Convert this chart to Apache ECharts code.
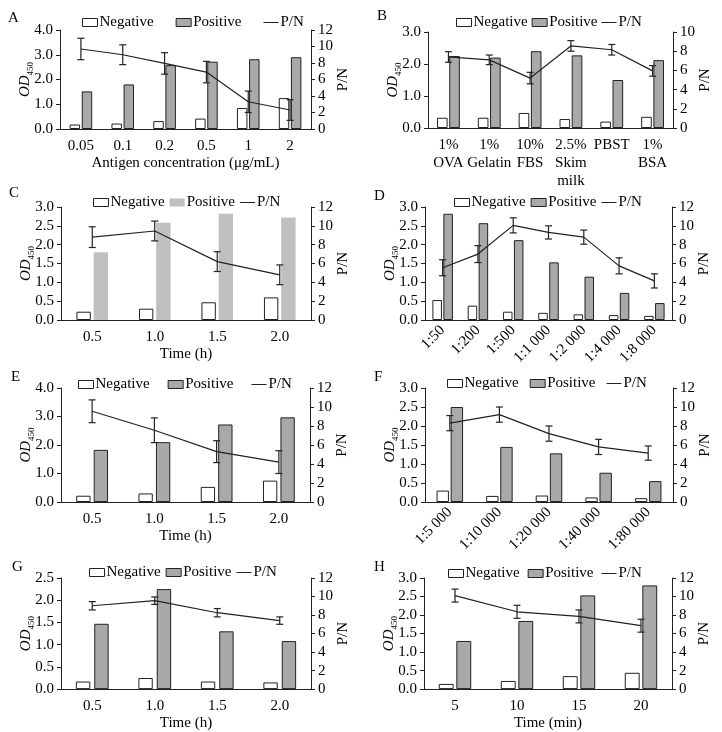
<!DOCTYPE html>
<html>
<head>
<meta charset="utf-8">
<script src="https://cdn.jsdelivr.net/npm/echarts@6/dist/echarts.min.js"></script>
<style>
html, body {margin: 0; padding: 0; background: #fff;}
#ch-main {width: 722px; height: 732px;}
</style>
</head>
<body>
<div id="ch-main"></div>
<script>
// A - antigen concentration
var catA = ['0.05', '0.1', '0.2', '0.5', '1', '2'];
var negA = [0.18, 0.22, 0.32, 0.42, 0.85, 1.25];
var posA = [1.52, 1.80, 2.58, 2.72, 2.82, 2.90];
var pnA = [9.7, 9.0, 7.95, 6.9, 3.3, 2.3];
var errA = [1.3, 1.2, 1.3, 1.3, 1.3, 1.25];

// B - blocking buffer
var catB = ['1%\nOVA', '1%\nGelatin', '10%\nFBS', '2.5%\nSkim\nmilk', 'PBST', '1%\nBSA'];
var negB = [0.32, 0.32, 0.47, 0.28, 0.20, 0.35];
var posB = [2.25, 2.20, 2.40, 2.27, 1.50, 2.12];
var pnB = [7.4, 7.1, 5.2, 8.55, 8.15, 5.95];
var errB = [0.55, 0.5, 0.6, 0.55, 0.55, 0.55];

// C - time
var catC = ['0.5', '1.0', '1.5', '2.0'];
var negC = [0.22, 0.30, 0.47, 0.60];
var posC = [1.80, 2.58, 2.82, 2.72];
var pnC = [8.8, 9.45, 6.2, 4.8];
var errC = [1.1, 1.05, 1.05, 1.05];

// D - dilution
var catD = ['1:50', '1:200', '1:500', '1:1 000', '1:2 000', '1:4 000', '1:8 000'];
var negD = [0.53, 0.38, 0.22, 0.19, 0.15, 0.13, 0.11];
var posD = [2.82, 2.57, 2.12, 1.53, 1.15, 0.72, 0.45];
var pnD = [5.55, 7.0, 10.05, 9.3, 8.8, 5.75, 4.15];
var errD = [0.85, 0.9, 0.8, 0.7, 0.75, 0.85, 0.75];

// E - time
var catE = ['0.5', '1.0', '1.5', '2.0'];
var negE = [0.22, 0.30, 0.53, 0.75];
var posE = [1.83, 2.10, 2.72, 2.97];
var pnE = [9.55, 7.55, 5.3, 4.2];
var errE = [1.2, 1.3, 1.15, 1.2];

// F - dilution
var catF = ['1:5 000', '1:10 000', '1:20 000', '1:40 000', '1:80 000'];
var negF = [0.30, 0.16, 0.17, 0.12, 0.10];
var posF = [2.50, 1.45, 1.28, 0.77, 0.55];
var pnF = [8.3, 9.2, 7.2, 5.8, 5.15];
var errF = [0.8, 0.8, 0.8, 0.8, 0.75];

// G - time
var catG = ['0.5', '1.0', '1.5', '2.0'];
var negG = [0.17, 0.25, 0.17, 0.15];
var posG = [1.47, 2.25, 1.30, 1.08];
var pnG = [9.0, 9.55, 8.25, 7.4];
var errG = [0.45, 0.4, 0.45, 0.4];

// H - time (min)
var catH = ['5', '10', '15', '20'];
var negH = [0.14, 0.22, 0.35, 0.44];
var posH = [1.30, 1.84, 2.53, 2.80];
var pnH = [10.1, 8.35, 7.85, 6.85];
var errH = [0.7, 0.7, 0.7, 0.7];

var FONT = "'Liberation Serif', 'Times New Roman', serif";
var DARK = '#222';
var GRAY = '#a9a9a9';
var LIGHT = '#bfbfbf';

var panels = [
    {letter: 'A', cats: catA, neg: negA, pos: posA, pn: pnA, err: errA, yMax: 4, yStep: 1, pnMax: 12,
        xName: 'Antigen concentration (μg/mL)', grid: [60, 30, 251, 99], leg: [82, 15, 22], lt: [8, 11], bw: '25%', bg: '16%'},
    {letter: 'B', cats: catB, neg: negB, pos: posB, pn: pnB, err: errB, yMax: 3, yStep: 1, pnMax: 10,
        xName: '', grid: [428, 32, 245, 96], leg: [456, 15, 4], lt: [377, 9], bw: '26%', bg: '15%'},
    {letter: 'C', cats: catC, neg: negC, pos: posC, pn: pnC, err: errC, yMax: 3, yStep: 0.5, pnMax: 12,
        xName: 'Time (h)', grid: [61, 207, 250, 113], leg: [93, 195, 5], lt: [9, 186], bw: '23%', bg: '20%', light: true},
    {letter: 'D', cats: catD, neg: negD, pos: posD, pn: pnD, err: errD, yMax: 3, yStep: 0.5, pnMax: 12,
        xName: '', grid: [425, 207, 247, 113], leg: [454, 195, 5], lt: [374, 189], bw: '27%', bg: '15%', rot: 45},
    {letter: 'E', cats: catE, neg: negE, pos: posE, pn: pnE, err: errE, yMax: 4, yStep: 1, pnMax: 12,
        xName: 'Time (h)', grid: [61, 388, 249, 114], leg: [78, 377, 18], lt: [11, 370], bw: '23%', bg: '22%'},
    {letter: 'F', cats: catF, neg: negF, pos: posF, pn: pnF, err: errF, yMax: 3, yStep: 0.5, pnMax: 12,
        xName: '', grid: [425, 388, 248, 114], leg: [447, 376, 11], lt: [374, 370], bw: '25%', bg: '14%', rot: 45},
    {letter: 'G', cats: catG, neg: negG, pos: posG, pn: pnG, err: errG, yMax: 2.5, yStep: 0.5, pnMax: 12,
        xName: 'Time (h)', grid: [61, 578, 250, 115], leg: [89, 565, 5], lt: [12, 560], bw: '23%', bg: '28%'},
    {letter: 'H', cats: catH, neg: negH, pos: posH, pn: pnH, err: errH, yMax: 3, yStep: 0.5, pnMax: 12,
        xName: 'Time (min)', grid: [424, 578, 248, 115], leg: [448, 566, 8], lt: [374, 560], bw: '24%', bg: '18%'}
];

// vertical error bar with caps
function renderErr(params, api) {
    var x = api.value(0);
    var lo = api.coord([x, api.value(1)]);
    var hi = api.coord([x, api.value(2)]);
    var c = 3.5;
    var st = {stroke: DARK, lineWidth: 1.2};
    return {
        type: 'group',
        children: [
            {type: 'line', shape: {x1: lo[0], y1: lo[1], x2: hi[0], y2: hi[1]}, style: st},
            {type: 'line', shape: {x1: lo[0] - c, y1: lo[1], x2: lo[0] + c, y2: lo[1]}, style: st},
            {type: 'line', shape: {x1: hi[0] - c, y1: hi[1], x2: hi[0] + c, y2: hi[1]}, style: st}
        ]
    };
}

var axisLine = {show: true, lineStyle: {color: DARK, width: 1}};
var txt = {fontFamily: FONT, fontSize: 15, color: '#000'};

var option = {
    animation: false,
    backgroundColor: '#fff',
    textStyle: {fontFamily: FONT},
    grid: [], xAxis: [], yAxis: [], series: [], legend: [], graphic: []
};

panels.forEach(function (p, i) {
    option.grid.push({left: p.grid[0], top: p.grid[1], width: p.grid[2], height: p.grid[3]});
    option.xAxis.push({
        type: 'category', gridIndex: i, data: p.cats,
        axisLine: axisLine, axisTick: {show: false},
        axisLabel: Object.assign({interval: 0, margin: 8, rotate: p.rot || 0, lineHeight: 18}, txt),
        name: p.xName, nameLocation: 'middle', nameGap: 26,
        nameTextStyle: txt
    });
    option.yAxis.push({
        type: 'value', gridIndex: i, min: 0, max: p.yMax, interval: p.yStep,
        axisLine: axisLine, axisTick: {show: true, length: 4, lineStyle: {color: DARK}},
        splitLine: {show: false},
        axisLabel: Object.assign({margin: 7, formatter: function (v) { return v.toFixed(1); }}, txt),
        name: '{i|OD}{s|450}', nameLocation: 'middle', nameGap: 25, nameRotate: 90,
        nameMoveOverlap: false,
        nameTextStyle: {
            rich: {
                i: {fontFamily: FONT, fontSize: 15, fontStyle: 'italic', color: '#000', verticalAlign: 'middle', lineHeight: 16},
                s: {fontFamily: FONT, fontSize: 9, color: '#000', verticalAlign: 'bottom', padding: [11, 0, 0, 0]}
            }
        }
    });
    option.yAxis.push({
        type: 'value', gridIndex: i, position: 'right', min: 0, max: p.pnMax, interval: 2,
        axisLine: axisLine, axisTick: {show: true, length: 4, lineStyle: {color: DARK}},
        splitLine: {show: false},
        axisLabel: Object.assign({margin: 7}, txt),
        name: 'P/N', nameLocation: 'middle', nameGap: 25, nameRotate: 90,
        nameMoveOverlap: false,
        nameTextStyle: txt
    });

    var posStyle = p.light ? {color: LIGHT, borderWidth: 0} : {color: GRAY, borderColor: DARK, borderWidth: 1};
    option.series.push({
        name: 'Negative', type: 'bar', xAxisIndex: i, yAxisIndex: 2 * i,
        data: p.neg, barWidth: p.bw, barGap: p.bg,
        itemStyle: {color: '#fff', borderColor: DARK, borderWidth: 1}
    });
    option.series.push({
        name: 'Positive', type: 'bar', xAxisIndex: i, yAxisIndex: 2 * i,
        data: p.pos, barWidth: p.bw, barGap: p.bg,
        itemStyle: posStyle
    });
    option.series.push({
        name: 'P/N', type: 'line', xAxisIndex: i, yAxisIndex: 2 * i + 1,
        data: p.pn, symbol: 'none', z: 5,
        lineStyle: {color: DARK, width: 1.2}, itemStyle: {color: DARK}
    });
    option.series.push({
        name: 'err' + p.letter, type: 'custom', xAxisIndex: i, yAxisIndex: 2 * i + 1,
        renderItem: renderErr, z: 6,
        encode: {x: 0, y: [1, 2]},
        data: p.pn.map(function (v, k) { return [k, v - p.err[k], v + p.err[k]]; })
    });

    option.legend.push({
        left: p.leg[0], top: p.leg[1], itemGap: p.leg[2], padding: 0,
        itemWidth: 15, itemHeight: 8, symbolKeepAspect: true,
        textStyle: {fontFamily: FONT, fontSize: 15, color: '#000', padding: [0, 0, 0, -3]},
        data: [
            {name: 'Negative', icon: 'rect', itemStyle: {color: '#fff', borderColor: DARK, borderWidth: 1}},
            {name: 'Positive', icon: 'rect', itemStyle: posStyle},
            {name: 'P/N', icon: 'path://M0,0H30V2H0Z', itemStyle: {color: DARK, borderWidth: 0}}
        ]
    });

    option.graphic.push({
        type: 'text', left: p.lt[0], top: p.lt[1],
        style: {text: p.letter, font: '15px ' + FONT, fill: '#000'}
    });
});

var myChart = echarts.init(document.getElementById('ch-main'));
myChart.setOption(option);
</script>
</body>
</html>
